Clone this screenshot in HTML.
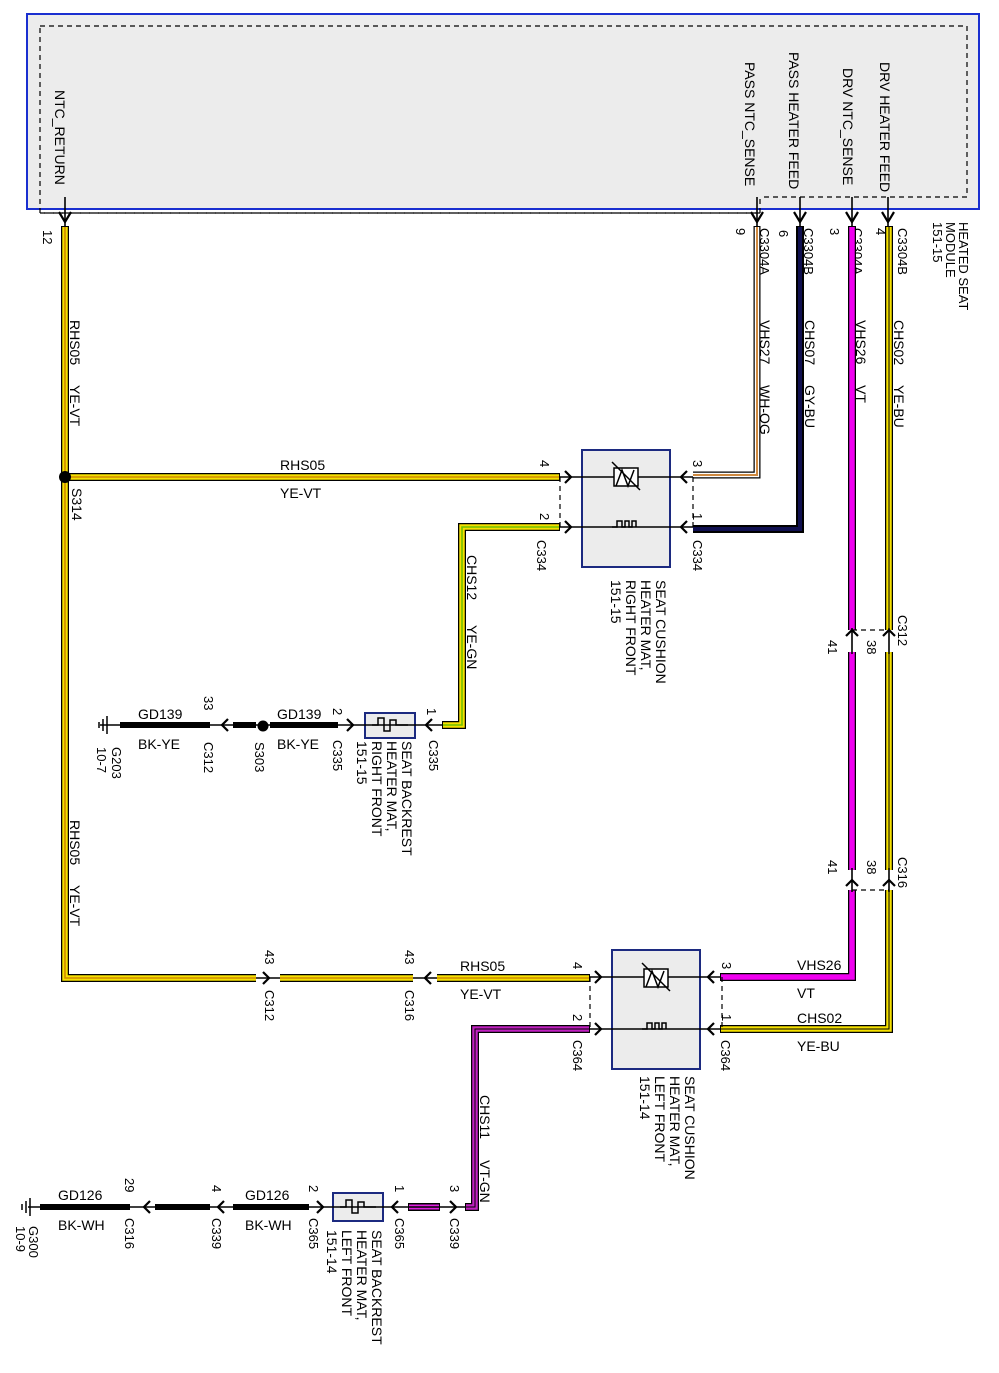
<!DOCTYPE html>
<html><head><meta charset="utf-8"><style>
html,body{margin:0;padding:0;background:#fff;}
svg{display:block;font-family:"Liberation Sans",Arial,sans-serif;font-size:14px;}
.o{fill:none;stroke:#000;stroke-linejoin:miter;stroke-linecap:butt}
.ln{fill:none;stroke:#000;stroke-width:1.6}
.ar{fill:none;stroke:#000;stroke-width:2.2}
.ds{fill:none;stroke:#000;stroke-width:1.2;stroke-dasharray:5,4}
</style></head><body>
<svg width="999" height="1373" viewBox="0 0 999 1373" xmlns="http://www.w3.org/2000/svg">
<rect x="27" y="14" width="952" height="195" fill="#ececec" stroke="#1a2fd0" stroke-width="2"/>
<path class="ds" d="M40 26 H967 V197 H760 M760 213 H40 V26" stroke-width="1.5"/>
<path class="ds" d="M40 213 H760 V197" stroke-width="1.5"/>
<g font-size="14">
<text transform="translate(55,90) rotate(90)">NTC_RETURN</text>
<text transform="translate(745,62) rotate(90)">PASS NTC_SENSE</text>
<text transform="translate(789,52) rotate(90)">PASS HEATER FEED</text>
<text transform="translate(843,68) rotate(90)">DRV NTC_SENSE</text>
<text transform="translate(880,62) rotate(90)">DRV HEATER FEED</text>
</g>
<g>
<path class="ln" d="M65 197 V226 M757 197 V226 M800 197 V226 M852 197 V226 M888 197 V226"/>
<path class="ar" d="M59 212 L65 222 L71 212 M751 212 L757 222 L763 212 M794 212 L800 222 L806 212 M846 212 L852 222 L858 212 M882 212 L888 222 L894 212"/>
</g>
<g font-size="13">
<text transform="translate(43,230) rotate(90)">12</text>
<text transform="translate(736,228) rotate(90)">9</text>
<text transform="translate(760,228) rotate(90)">C3304A</text>
<text transform="translate(779,230) rotate(90)">6</text>
<text transform="translate(804,228) rotate(90)">C3304B</text>
<text transform="translate(830,228) rotate(90)">3</text>
<text transform="translate(853,228) rotate(90)">C3304A</text>
<text transform="translate(876,228) rotate(90)">4</text>
<text transform="translate(898,228) rotate(90)">C3304B</text>
<text transform="translate(933,222) rotate(90)">151-15</text>
<text transform="translate(946,222) rotate(90)">MODULE</text>
<text transform="translate(959,222) rotate(90)">HEATED SEAT</text>
</g>

<g>
<path class="o" stroke-width="8" d="M65 226 V978 H256 M280 978 H413 M437 978 H590"/>
<path fill="none" stroke="#f5e000" stroke-width="5.5" d="M65 227 V978 H256 M280 978 H413 M437 978 H589"/>
<path fill="none" stroke="#d08a00" stroke-width="1.6" d="M65 227 V978 H256 M280 978 H413 M437 978 H589"/>
<path class="o" stroke-width="8" d="M65 477 H560"/>
<path fill="none" stroke="#f5e000" stroke-width="5.5" d="M66 477 H559"/>
<path fill="none" stroke="#d08a00" stroke-width="1.6" d="M66 477 H559"/>
<circle cx="65" cy="477" r="6" fill="#000"/>
</g>
<path class="o" stroke-width="7" d="M757 226 V475 H693"/>
<path fill="none" stroke="#fff" stroke-width="4.5" d="M757 227 V475 H693"/>
<path fill="none" stroke="#d08a40" stroke-width="2" d="M757 227 V475 H693"/>
<path fill="none" stroke="#000" stroke-width="8" d="M800 226 V529 H693"/>
<path fill="none" stroke="#101050" stroke-width="4" d="M800 227 V529 H693"/>
<path class="o" stroke-width="8" d="M852 226 V630 M852 652 V870 M852 890 V977 H720"/>
<path fill="none" stroke="#f000f0" stroke-width="5.5" d="M852 227 V630 M852 652 V870 M852 890 V977 H721"/>
<path class="o" stroke-width="8" d="M889 226 V630 M889 652 V870 M889 890 V1029 H720"/>
<path fill="none" stroke="#f5e000" stroke-width="5.5" d="M889 227 V630 M889 652 V870 M889 890 V1029 H721"/>
<path fill="none" stroke="#000" stroke-width="1" d="M889 227 V630 M889 652 V870 M889 890 V1029 H721"/>
<path class="ln" d="M852 628 V654 M889 628 V654 M852 868 V892 M889 868 V892"/>
<path class="ar" d="M846 636 L852 630 L858 636 M883 636 L889 630 L895 636 M846 886 L852 880 L858 886 M883 886 L889 880 L895 886"/>
<path class="ds" d="M852 630 H889 M852 890 H889"/>
<g font-size="13">
<text transform="translate(828,640) rotate(90)">41</text>
<text transform="translate(867,640) rotate(90)">38</text>
<text transform="translate(898,615) rotate(90)">C312</text>
<text transform="translate(828,860) rotate(90)">41</text>
<text transform="translate(867,860) rotate(90)">38</text>
<text transform="translate(898,857) rotate(90)">C316</text>
</g>
<path class="o" stroke-width="8" d="M560 527 H462 V725 H442"/>
<path fill="none" stroke="#f5e000" stroke-width="5.5" d="M559 527 H462 V725 H443"/>
<path fill="none" stroke="#70c000" stroke-width="1.6" d="M559 527 H462 V725 H443"/>
<path class="o" stroke-width="8" d="M590 1029 H475 V1207 H465"/>
<path fill="none" stroke="#c020c0" stroke-width="5.5" d="M589 1029 H475 V1207 H466"/>
<path fill="none" stroke="#000" stroke-width="1" d="M589 1029 H475 V1207 H466"/>
<path class="o" stroke-width="8" d="M408 1207 H440"/>
<path fill="none" stroke="#e020e0" stroke-width="5" d="M409 1207 H439"/>

<rect x="582" y="450" width="88" height="117" fill="#ececec" stroke="#1c2a80" stroke-width="2"/>
<path class="ln" d="M560 477 H693 M560 527 H693"/>
<path class="ar" d="M565 471 L571 477 L565 483 M565 521 L571 527 L565 533 M687 471 L681 477 L687 483 M687 521 L681 527 L687 533"/>
<path class="ds" d="M560 477 V527 M693 477 V527"/>
<rect x="614" y="468" width="24" height="18" fill="#fff" stroke="#000" stroke-width="1.5"/>
<path fill="none" stroke="#000" stroke-width="1.5" d="M616 486 L622 470 L628 486 L634 470 M612 462 L640 490"/>
<path fill="none" stroke="#000" stroke-width="1.5" d="M612 527 H617 V521 H622 V527 H625 V521 H629 V527 H632 V521 H636 V527"/>
<g font-size="13">
<text transform="translate(540,460) rotate(90)">4</text>
<text transform="translate(540,513) rotate(90)">2</text>
<text transform="translate(537,540) rotate(90)">C334</text>
<text transform="translate(693,460) rotate(90)">3</text>
<text transform="translate(693,513) rotate(90)">1</text>
<text transform="translate(693,540) rotate(90)">C334</text>
</g>
<g font-size="14">
<text transform="translate(656,580) rotate(90)">SEAT CUSHION</text>
<text transform="translate(641,580) rotate(90)">HEATER MAT,</text>
<text transform="translate(626,580) rotate(90)">RIGHT FRONT</text>
<text transform="translate(611,580) rotate(90)">151-15</text>
</g>

<rect x="612" y="950" width="88" height="119" fill="#ececec" stroke="#1c2a80" stroke-width="2"/>
<path class="ln" d="M590 977 H720 M590 1029 H720"/>
<path class="ar" d="M595 971 L601 977 L595 983 M595 1023 L601 1029 L595 1035 M714 971 L708 977 L714 983 M714 1023 L708 1029 L714 1035"/>
<path class="ds" d="M590 977 V1029 M722 977 V1029"/>
<rect x="644" y="969" width="24" height="18" fill="#fff" stroke="#000" stroke-width="1.5"/>
<path fill="none" stroke="#000" stroke-width="1.5" d="M646 987 L652 971 L658 987 L664 971 M642 963 L670 991"/>
<path fill="none" stroke="#000" stroke-width="1.5" d="M642 1029 H647 V1023 H652 V1029 H655 V1023 H659 V1029 H662 V1023 H666 V1029"/>
<g font-size="13">
<text transform="translate(573,962) rotate(90)">4</text>
<text transform="translate(573,1014) rotate(90)">2</text>
<text transform="translate(573,1040) rotate(90)">C364</text>
<text transform="translate(722,962) rotate(90)">3</text>
<text transform="translate(722,1014) rotate(90)">1</text>
<text transform="translate(721,1040) rotate(90)">C364</text>
</g>
<g font-size="14">
<text transform="translate(685,1076) rotate(90)">SEAT CUSHION</text>
<text transform="translate(670,1076) rotate(90)">HEATER MAT,</text>
<text transform="translate(655,1076) rotate(90)">LEFT FRONT</text>
<text transform="translate(640,1076) rotate(90)">151-14</text>
</g>

<path class="ln" d="M256 978 H280 M413 978 H437"/>
<path class="ar" d="M263 972 L269 978 L263 984 M431 972 L425 978 L431 984"/>
<g font-size="13">
<text transform="translate(265,950) rotate(90)">43</text>
<text transform="translate(265,990) rotate(90)">C312</text>
<text transform="translate(405,950) rotate(90)">43</text>
<text transform="translate(405,990) rotate(90)">C316</text>
</g>

<rect x="365" y="713" width="50" height="25" fill="#ececec" stroke="#1c2a80" stroke-width="2"/>
<path class="ln" d="M100 725 H443"/>
<path fill="none" stroke="#000" stroke-width="1.5" d="M372 725 H378 V718 H384 V731 H390 V720 H396 V725 H408"/>
<path class="ar" d="M432 719 L426 725 L432 731 M347 719 L353 725 L347 731 M228 719 L222 725 L228 731"/>
<path fill="none" stroke="#000" stroke-width="6" d="M120 725 H210 M233 725 H256 M270 725 H338"/>
<circle cx="263" cy="726" r="5.5" fill="#000"/>
<path fill="none" stroke="#000" stroke-width="1.5" d="M107 716 V734 M103 719 V731 M99 722 V728"/>
<g font-size="13">
<text transform="translate(427,708) rotate(90)">1</text>
<text transform="translate(429,740) rotate(90)">C335</text>
<text transform="translate(333,708) rotate(90)">2</text>
<text transform="translate(333,740) rotate(90)">C335</text>
<text transform="translate(255,742) rotate(90)">S303</text>
<text transform="translate(204,696) rotate(90)">33</text>
<text transform="translate(204,742) rotate(90)">C312</text>
<text transform="translate(112,747) rotate(90)">G203</text>
<text transform="translate(97,747) rotate(90)">10-7</text>
</g>
<g font-size="14">
<text transform="translate(402,741) rotate(90)">SEAT BACKREST</text>
<text transform="translate(387,741) rotate(90)">HEATER MAT,</text>
<text transform="translate(372,741) rotate(90)">RIGHT FRONT</text>
<text transform="translate(357,741) rotate(90)">151-15</text>
</g>

<rect x="333" y="1193" width="50" height="28" fill="#ececec" stroke="#1c2a80" stroke-width="2"/>
<path class="ln" d="M28 1207 H466"/>
<path fill="none" stroke="#000" stroke-width="1.5" d="M340 1207 H346 V1200 H352 V1213 H358 V1202 H364 V1207 H376"/>
<path class="ar" d="M398 1201 L392 1207 L398 1213 M450 1201 L456 1207 L450 1213 M317 1201 L323 1207 L317 1213 M224 1201 L218 1207 L224 1213 M150 1201 L144 1207 L150 1213"/>
<path fill="none" stroke="#000" stroke-width="6" d="M40 1207 H130 M155 1207 H210 M233 1207 H309"/>
<path fill="none" stroke="#000" stroke-width="1.5" d="M30 1198 V1216 M26 1201 V1213 M22 1204 V1210"/>
<g font-size="13">
<text transform="translate(395,1185) rotate(90)">1</text>
<text transform="translate(395,1218) rotate(90)">C365</text>
<text transform="translate(450,1185) rotate(90)">3</text>
<text transform="translate(450,1218) rotate(90)">C339</text>
<text transform="translate(309,1185) rotate(90)">2</text>
<text transform="translate(309,1218) rotate(90)">C365</text>
<text transform="translate(212,1185) rotate(90)">4</text>
<text transform="translate(212,1218) rotate(90)">C339</text>
<text transform="translate(125,1178) rotate(90)">29</text>
<text transform="translate(125,1218) rotate(90)">C316</text>
<text transform="translate(29,1226) rotate(90)">G300</text>
<text transform="translate(16,1226) rotate(90)">10-9</text>
</g>
<g font-size="14">
<text transform="translate(372,1230) rotate(90)">SEAT BACKREST</text>
<text transform="translate(357,1230) rotate(90)">HEATER MAT,</text>
<text transform="translate(342,1230) rotate(90)">LEFT FRONT</text>
<text transform="translate(327,1230) rotate(90)">151-14</text>
</g>

<g font-size="14">
<text transform="translate(70,320) rotate(90)">RHS05</text>
<text transform="translate(70,385) rotate(90)">YE-VT</text>
<text transform="translate(70,820) rotate(90)">RHS05</text>
<text transform="translate(70,885) rotate(90)">YE-VT</text>
<text transform="translate(72,488) rotate(90)">S314</text>
<text transform="translate(760,320) rotate(90)">VHS27</text>
<text transform="translate(760,385) rotate(90)">WH-OG</text>
<text transform="translate(805,320) rotate(90)">CHS07</text>
<text transform="translate(805,385) rotate(90)">GY-BU</text>
<text transform="translate(856,320) rotate(90)">VHS26</text>
<text transform="translate(856,385) rotate(90)">VT</text>
<text transform="translate(894,320) rotate(90)">CHS02</text>
<text transform="translate(894,385) rotate(90)">YE-BU</text>
<text transform="translate(467,555) rotate(90)">CHS12</text>
<text transform="translate(467,625) rotate(90)">YE-GN</text>
<text transform="translate(480,1095) rotate(90)">CHS11</text>
<text transform="translate(480,1160) rotate(90)">VT-GN</text>
<text x="280" y="470">RHS05</text>
<text x="280" y="498">YE-VT</text>
<text x="460" y="971">RHS05</text>
<text x="460" y="999">YE-VT</text>
<text x="797" y="970">VHS26</text>
<text x="797" y="998">VT</text>
<text x="797" y="1023">CHS02</text>
<text x="797" y="1051">YE-BU</text>
<text x="277" y="719">GD139</text>
<text x="277" y="749">BK-YE</text>
<text x="138" y="719">GD139</text>
<text x="138" y="749">BK-YE</text>
<text x="245" y="1200">GD126</text>
<text x="245" y="1230">BK-WH</text>
<text x="58" y="1200">GD126</text>
<text x="58" y="1230">BK-WH</text>
</g>
</svg>
</body></html>
